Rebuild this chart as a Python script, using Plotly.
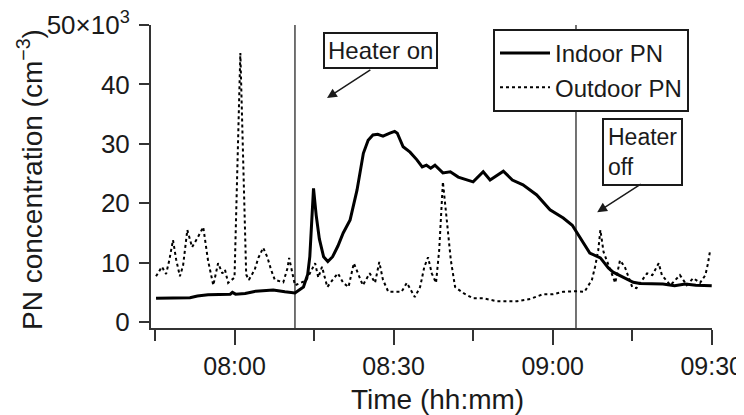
import pandas as pd
import plotly.graph_objects as go

# ---- data (minutes after 07:45, concentration in 10^3 cm^-3) ----
indoor_minutes = [0.2, 6.6, 8.0, 10.0, 14.2, 14.6, 15.2, 17.0, 19.0, 22.3, 24.5, 26.4,
                  28.0, 28.8, 29.2, 29.6, 29.9, 30.4, 31.0, 31.8, 32.6, 33.5, 34.5, 35.5,
                  36.8, 38.1, 39.3, 40.2, 41.1, 42.0, 43.0, 44.3, 45.2, 45.7, 46.8, 48.1,
                  49.4, 50.4, 51.2, 52.0, 52.8, 54.3, 55.7, 57.2, 58.5, 60.0, 61.9, 63.2,
                  65.7, 67.4, 69.4, 72.0, 74.5, 77.0, 78.7, 79.6, 81.0, 82.0, 84.0, 85.5,
                  86.4, 88.3, 90.2, 91.5, 95.8, 98.0, 100.0, 102.0, 105.0]
indoor_pn = [4.0, 4.1, 4.4, 4.6, 4.7, 5.0, 4.7, 4.8, 5.2, 5.4, 5.1, 4.9,
             5.9, 8.0, 11.0, 17.5, 22.5, 18.0, 14.0, 11.0, 10.2, 11.0, 12.8, 15.0,
             17.2, 22.2, 28.4, 30.6, 31.5, 31.6, 31.3, 31.8, 32.1, 31.8, 29.5, 28.6,
             27.3, 26.1, 26.4, 25.9, 26.4, 25.1, 25.3, 24.4, 24.0, 23.6, 25.3, 23.9,
             25.4, 23.9, 23.1, 21.4, 18.9, 17.5, 16.3, 15.0, 13.0, 11.6, 10.8, 9.1,
             8.4, 7.6, 6.7, 6.5, 6.4, 6.1, 6.4, 6.2, 6.1]

outdoor_minutes = [0.2, 1.3, 2.1, 2.7, 3.4, 4.0, 4.7, 5.3, 6.1, 7.0, 8.1, 9.1, 10.0, 11.0,
                   11.9, 12.7, 13.2, 13.8, 15.0, 16.1, 17.2, 17.7, 18.8, 19.5, 20.4, 21.2,
                   21.9, 22.6, 24.2, 25.0, 25.3, 26.0, 26.4, 27.5, 28.5, 30.2, 30.8, 31.5,
                   32.5, 33.5, 34.5, 35.5, 36.5, 37.5, 38.5, 39.2, 40.5, 41.5, 42.3, 43.0,
                   44.0, 45.5, 46.5, 47.5, 49.0, 50.0, 50.8, 51.5, 52.2, 53.0, 53.6, 54.3,
                   55.0, 55.8, 56.6, 58.1, 60.0, 61.9, 64.5, 68.3, 70.8, 73.2, 75.1, 77.0,
                   79.6, 81.0, 82.4, 83.0, 83.6, 84.0, 84.6, 85.4, 86.2, 86.8, 87.7, 88.6,
                   90.0, 90.8, 92.8, 93.8, 95.0, 95.6, 97.2, 99.0, 100.3, 101.5, 102.8,
                   103.8, 104.3, 104.7]
outdoor_pn = [7.7, 9.3, 8.1, 10.4, 13.8, 10.5, 7.7, 9.5, 15.5, 12.6, 14.3, 16.0, 10.4, 6.2,
              9.9, 8.2, 8.8, 6.6, 7.5, 45.3, 8.0, 7.1, 8.8, 10.8, 12.5, 10.9,
              8.8, 7.1, 6.7, 9.1, 10.8, 8.2, 6.2, 6.6, 7.0, 9.9, 7.5, 9.3,
              5.9, 7.1, 8.2, 6.6, 5.9, 9.9, 7.6, 6.2, 8.2, 6.6, 10.1, 7.1,
              5.1, 5.1, 5.1, 6.6, 4.2, 5.9, 9.3, 10.9, 8.2, 6.6, 12.1, 23.6,
              17.2, 10.4, 5.9, 4.9, 4.0, 4.0, 3.5, 3.5, 3.9, 4.7, 4.7, 5.1,
              5.2, 5.1, 7.1, 9.3, 12.1, 15.5, 11.8, 9.9, 8.2, 6.6, 10.4, 9.3,
              5.9, 5.7, 8.2, 7.9, 9.9, 7.9, 6.2, 7.9, 6.2, 7.4, 6.6,
              7.9, 9.9, 12.1]

heater_on_minutes = 26.4
heater_off_minutes = 79.4

y_tickvals = [0, 10, 20, 30, 40, 50]
y_ticktext = ["0", "10", "20", "30", "40", "50×10<sup>3</sup>"]

BASE = pd.Timestamp("2020-01-01 07:45:00")


def t(m):
    return BASE + pd.to_timedelta(m, unit="min")


FONT = "Liberation Sans, Arial, sans-serif"
INK = "#1a1a1a"

# The page body has an 8px margin, so the figure is drawn 8px in and 8px down.
OFF = 8
W, H = 744 - OFF, 415 - OFF
# plot-area geometry in screen pixels (for placing text outside the axes)
L, R, T, B = 151, 712, 25, 328
PW, PH = R - L, B - T

fig = go.Figure()
fig.add_trace(go.Scatter(x=[t(m) for m in indoor_minutes], y=indoor_pn, mode="lines",
                         name="Indoor PN", line=dict(color="black", width=3)))
fig.add_trace(go.Scatter(x=[t(m) for m in outdoor_minutes], y=outdoor_pn, mode="lines",
                         name="Outdoor PN", line=dict(color="black", width=2, dash="3px,3px")))

for m in (heater_on_minutes, heater_off_minutes):
    fig.add_shape(type="line", xref="x", yref="paper", x0=t(m), x1=t(m), y0=0, y1=1,
                  line=dict(color="#444", width=1.5), layer="below")

# text boxes
fig.add_annotation(x=t(42.5), y=45.7, xref="x", yref="y", text="Heater on", showarrow=False,
                   font=dict(size=24, color=INK, family=FONT), bordercolor=INK, borderwidth=2,
                   borderpad=3, bgcolor="white")
fig.add_annotation(x=t(91.9), y=28.6, xref="x", yref="y", text="Heater<br>off", showarrow=False,
                   align="left", font=dict(size=23, color=INK, family=FONT), bordercolor=INK,
                   borderwidth=2, borderpad=4, bgcolor="white")
# arrows
fig.add_annotation(x=t(32.45), y=37.7, ax=t(40.9), ay=42.6, xref="x", yref="y", axref="x", ayref="y",
                   text="", showarrow=True, arrowhead=2, arrowsize=1.3, arrowwidth=1.5, arrowcolor=INK)
fig.add_annotation(x=t(83.4), y=18.5, ax=t(91.9), ay=23.4, xref="x", yref="y", axref="x", ayref="y",
                   text="", showarrow=True, arrowhead=2, arrowsize=1.3, arrowwidth=1.5, arrowcolor=INK)

# axis titles
fig.add_annotation(xref="paper", yref="paper", x=(30 - L) / PW, y=(B - 180) / PH,
                   text="PN concentration (cm<sup>−3</sup>)", textangle=-90, showarrow=False,
                   font=dict(size=28, color=INK, family=FONT), xanchor="center", yanchor="middle")
fig.add_annotation(xref="paper", yref="paper", x=(437 - L) / PW, y=(B - 399) / PH,
                   text="Time (hh:mm)", showarrow=False,
                   font=dict(size=28, color=INK, family=FONT), xanchor="center", yanchor="middle")

fig.update_layout(
    width=W, height=H,
    margin=dict(l=L - OFF, r=744 - R, t=T - OFF, b=415 - B, autoexpand=False),
    paper_bgcolor="white", plot_bgcolor="white",
    font=dict(family=FONT, size=24, color=INK),
    showlegend=True,
    legend=dict(x=(493 - L) / PW, y=(B - 29) / PH, xanchor="left", yanchor="top",
                bgcolor="white", bordercolor=INK, borderwidth=2, itemwidth=50,
                font=dict(size=24, color=INK, family=FONT), tracegroupgap=0),
    xaxis=dict(
        type="date", automargin=False,
        range=[t(-0.75), t(105.05)],
        tick0=t(15), dtick=30 * 60 * 1000, tickformat="%H:%M",
        ticks="outside", ticklen=15, tickwidth=2, tickcolor="#333",
        minor=dict(dtick=15 * 60 * 1000, tick0=t(0), ticks="outside", ticklen=11,
                   tickwidth=2, tickcolor="#333"),
        showline=True, linewidth=2, linecolor="#333",
        showgrid=False, zeroline=False,
        tickfont=dict(size=25, color=INK, family=FONT),
        ticklabelstandoff=0, ticklabeloverflow="allow",
    ),
    yaxis=dict(
        range=[-1, 50], automargin=False,
        tickvals=y_tickvals, ticktext=y_ticktext,
        ticks="outside", ticklen=10, tickwidth=2, tickcolor="#333",
        showline=True, linewidth=2, linecolor="#333",
        showgrid=False, zeroline=False,
        tickfont=dict(size=26, color=INK, family=FONT),
        ticklabelstandoff=4, ticklabeloverflow="allow",
    ),
)

fig.write_html("out.html")
